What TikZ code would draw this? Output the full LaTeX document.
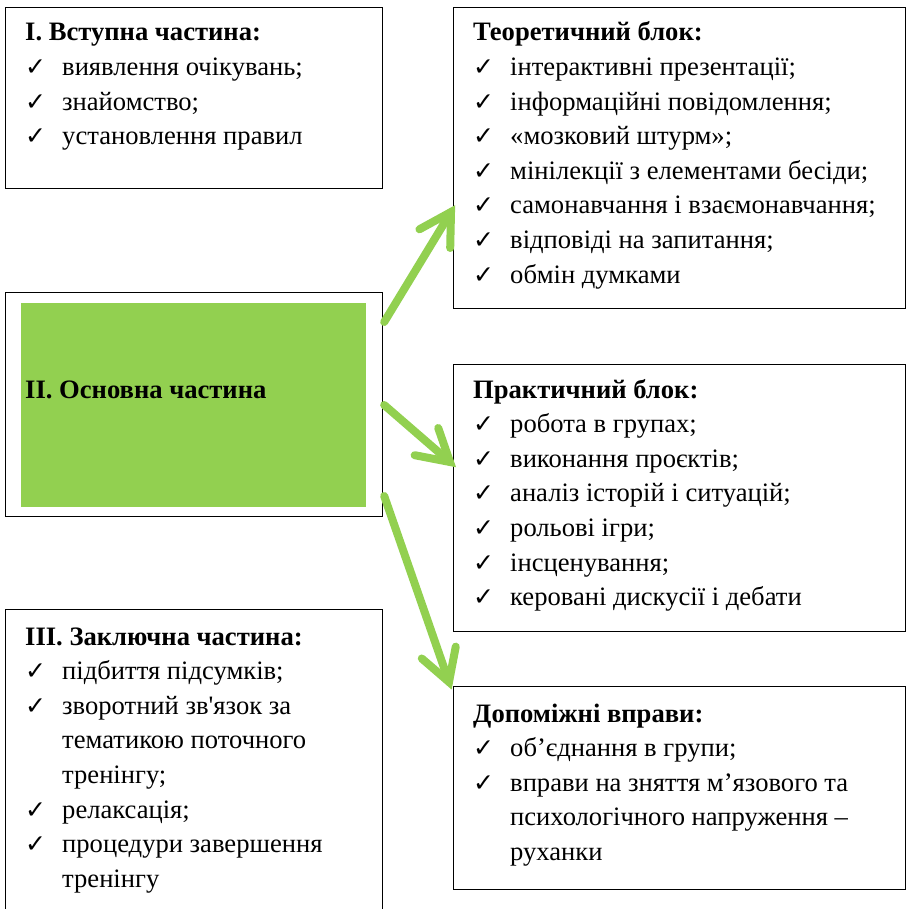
\documentclass[tikz,border=0pt]{standalone}
\usepackage{fontspec}
\setmainfont{Liberation Serif}
\newfontfamily\chk{DejaVu Sans}
\newfontfamily\apf{Liberation Serif}
\usetikzlibrary{calc}
\definecolor{grn}{HTML}{92D050}
\newcommand\ck{{\chk\bfseries\fontsize{25}{25}\selectfont ✓}}
\newcommand\apos{{\apf '}}
\newenvironment{blist}{\fontsize{26.6}{34.6}\selectfont\begin{tabular}[t]{@{}p{37pt}@{}l@{}}}{\end{tabular}}
\begin{document}
\begin{tikzpicture}[x=1pt,y=-1pt,
  box/.style={draw=black, line width=1.2pt, anchor=north west, inner sep=0pt},
  lst/.style={anchor=base west, inner sep=0pt},
  conn/.style={draw=grn, line width=8pt, line cap=round}]
\useasboundingbox (0,0) rectangle (909,909);
\fill[white] (0,0) rectangle (909,909);

% boxes
\node[box, minimum width=377pt, minimum height=181pt] (b1) at (5,7) {};
\node[box, minimum width=452pt, minimum height=301pt] (teor) at (453,7) {};
\node[box, minimum width=377pt, minimum height=224pt] (main) at (5,292) {};
\node[fill=grn, anchor=north west, inner sep=0pt, minimum width=345pt, minimum height=204pt] (green) at (21,303) {};
\node[box, minimum width=452pt, minimum height=267pt] (prakt) at (453,364) {};
\node[box, minimum width=377pt, minimum height=310pt] (b3) at (5,609) {};
\node[box, minimum width=452pt, minimum height=203pt] (dop) at (453,686) {};

% texts
\node[lst] (t1) at (25,41) {\begin{blist}
\multicolumn{2}{@{}l@{}}{\bfseries І. Вступна частина:}\\
\ck & виявлення очікувань;\\
\ck & знайомство;\\
\ck & установлення правил
\end{blist}};

\node[lst] (tteor) at (473,41) {\begin{blist}
\multicolumn{2}{@{}l@{}}{\bfseries Теоретичний блок:}\\
\ck & інтерактивні презентації;\\
\ck & інформаційні повідомлення;\\
\ck & «мозковий штурм»;\\
\ck & мінілекції з елементами бесіди;\\
\ck & самонавчання і взаємонавчання;\\
\ck & відповіді на запитання;\\
\ck & обмін думками
\end{blist}};

\node[lst, font=\fontsize{26.6}{34.6}\selectfont\bfseries] (tmain) at (25,398) {ІІ. Основна частина};

\node[lst] (tprakt) at (473,398) {\begin{blist}
\multicolumn{2}{@{}l@{}}{\bfseries Практичний блок:}\\
\ck & робота в групах;\\
\ck & виконання проєктів;\\
\ck & аналіз історій і ситуацій;\\
\ck & рольові ігри;\\
\ck & інсценування;\\
\ck & керовані дискусії і дебати
\end{blist}};

\node[lst] (t3) at (25,645) {\begin{blist}
\multicolumn{2}{@{}l@{}}{\bfseries ІІІ. Заключна частина:}\\
\ck & підбиття підсумків;\\
\ck & зворотний зв\apos язок за\\
 & тематикою поточного\\
 & тренінгу;\\
\ck & релаксація;\\
\ck & процедури завершення\\
 & тренінгу
\end{blist}};

\node[lst] (tdop) at (473,722) {\begin{blist}
\multicolumn{2}{@{}l@{}}{\bfseries Допоміжні вправи:}\\
\ck & об’єднання в групи;\\
\ck & вправи на зняття м’язового та\\
 & психологічного напруження –\\
 & руханки
\end{blist}};

% connectors
\coordinate (s1) at ($(main.north east)+(1,30)$);
\coordinate (e1) at ($(teor.north west)+(-2,205)$);
\coordinate (s2) at ($(main.north east)+(1,113)$);
\coordinate (e2) at ($(prakt.north west)+(-3,98)$);
\coordinate (s3) at ($(main.north east)+(1,204)$);
\coordinate (e3) at ($(dop.north west)+(-4,-4)$);
\foreach \s/\e in {s1/e1,s2/e2,s3/e3}{
  \draw[conn] (\s) -- (\e);
  \draw[conn] ($(\e)!36pt!30:(\s)$) -- (\e) -- ($(\e)!36pt!-30:(\s)$);
}
\end{tikzpicture}
\end{document}
